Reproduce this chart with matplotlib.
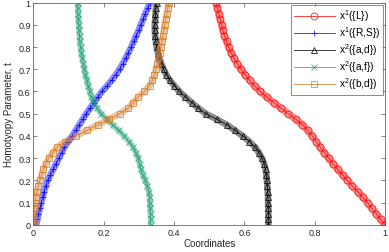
import numpy as np
import matplotlib
matplotlib.use("Agg")
import matplotlib.pyplot as plt

plt.rcParams["font.family"] = ["Liberation Sans", "DejaVu Sans"]

# homotopy parameter t (y axis), sampled every 0.025
t_vals = np.linspace(0, 1, 41)

x1_L = [1.000, 0.987, 0.975, 0.962, 0.950, 0.936, 0.922, 0.907, 0.893, 0.879,
        0.865, 0.852, 0.840, 0.827, 0.815, 0.804, 0.793, 0.780, 0.765, 0.746,
        0.725, 0.704, 0.683, 0.663, 0.645, 0.629, 0.615, 0.602, 0.590, 0.580,
        0.570, 0.562, 0.555, 0.549, 0.543, 0.539, 0.535, 0.531, 0.527, 0.523,
        0.520]
x1_RS = [0.008, 0.011, 0.014, 0.018, 0.022, 0.026, 0.030, 0.035, 0.040, 0.048,
         0.056, 0.064, 0.072, 0.080, 0.088, 0.099, 0.110, 0.120, 0.130, 0.140,
         0.150, 0.161, 0.172, 0.183, 0.195, 0.209, 0.222, 0.234, 0.245, 0.254,
         0.262, 0.270, 0.278, 0.285, 0.292, 0.299, 0.305, 0.312, 0.318, 0.325,
         0.331]
x2_ad = [0.668, 0.668, 0.668, 0.668, 0.667, 0.667, 0.666, 0.665, 0.664, 0.662,
         0.660, 0.656, 0.650, 0.641, 0.630, 0.614, 0.595, 0.573, 0.550, 0.521,
         0.490, 0.469, 0.450, 0.432, 0.415, 0.401, 0.388, 0.378, 0.370, 0.364,
         0.358, 0.354, 0.350, 0.348, 0.346, 0.345, 0.345, 0.346, 0.347, 0.348,
         0.350]
x2_af = [0.333, 0.333, 0.333, 0.332, 0.331, 0.330, 0.328, 0.324, 0.318, 0.311,
         0.306, 0.302, 0.298, 0.291, 0.283, 0.272, 0.258, 0.242, 0.225, 0.208,
         0.193, 0.181, 0.172, 0.165, 0.160, 0.156, 0.152, 0.148, 0.145, 0.142,
         0.139, 0.136, 0.134, 0.132, 0.131, 0.130, 0.129, 0.128, 0.127, 0.126,
         0.126]
x2_bd = [0.000, 0.001, 0.002, 0.003, 0.005, 0.007, 0.010, 0.014, 0.018, 0.023,
         0.028, 0.035, 0.043, 0.055, 0.068, 0.090, 0.120, 0.152, 0.183, 0.215,
         0.245, 0.270, 0.283, 0.298, 0.315, 0.330, 0.338, 0.344, 0.348, 0.352,
         0.355, 0.359, 0.362, 0.365, 0.368, 0.371, 0.373, 0.376, 0.379, 0.382,
         0.386]

series = [
    (x1_L,  r"x$^\mathregular{1}$({L})",   "#ff0000", "o", 5.0),
    (x1_RS, r"x$^\mathregular{1}$({R,S})", "#0000ff", "+", 4.5),
    (x2_ad, r"x$^\mathregular{2}$({a,d})", "#000000", "^", 4.5),
    (x2_af, r"x$^\mathregular{2}$({a,f})", "#1f9e74", "x", 4.0),
    (x2_bd, r"x$^\mathregular{2}$({b,d})", "#d47a26", "s", 4.5),
]

fig = plt.figure(figsize=(3.89, 2.53), dpi=100)
ax = fig.add_axes([0.086, 0.107, 0.904, 0.879])

for xs, label, color, marker, ms in series:
    # dense marker trail in the original reads as a thick band
    ax.plot(xs, t_vals, color=color, lw=ms * 1.05, alpha=0.45,
            solid_capstyle="round")
    ax.plot(xs, t_vals, color=color, lw=0.6, marker=marker, ms=ms,
            mfc="none", mec=color, mew=0.6, alpha=0.85, label=label)

ax.set_xlim(0, 1)
ax.set_ylim(0, 1)
ax.set_xticks(np.arange(0, 1.01, 0.2))
ax.set_xticklabels(["0", "0.2", "0.4", "0.6", "0.8", "1"])
ax.set_yticks(np.arange(0, 1.01, 0.1))
ax.set_yticklabels(["0"] + [f"{v:.1f}" for v in np.arange(0.1, 0.95, 0.1)] + ["1"])
ax.tick_params(direction="in", top=True, right=True, length=3, width=0.5,
               labelsize=6.5, colors="#555555", labelcolor="#262626", pad=2)
for sp in ax.spines.values():
    sp.set_color("#666666")
    sp.set_linewidth(0.6)

ax.set_xlabel("Coordinates", fontsize=7, color="#262626", labelpad=1)
ax.set_ylabel("Homotyopy Parameter, t", fontsize=7, color="#262626", labelpad=3)

leg = ax.legend(loc="upper right", fontsize=7.3, frameon=True, fancybox=False,
                borderaxespad=0.2, handlelength=4.0, handletextpad=0.4,
                labelspacing=0.12, borderpad=0.3)
leg.get_frame().set_edgecolor("#555555")
leg.get_frame().set_linewidth(0.6)

fig.savefig("out.png", dpi=100)
